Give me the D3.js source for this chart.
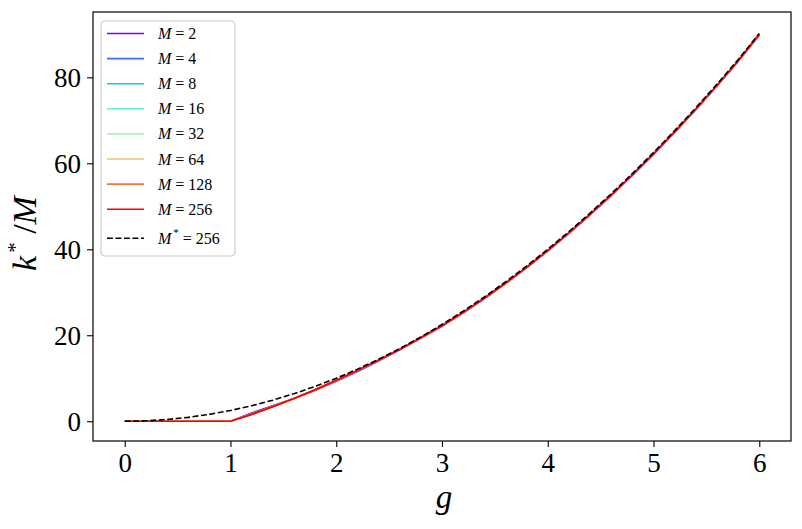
<!DOCTYPE html>
<html><head><meta charset="utf-8">
<script src="https://cdn.jsdelivr.net/npm/d3@7/dist/d3.min.js"></script>
<style>body{margin:0;background:#fff;} text{font-family:"Liberation Serif","DejaVu Serif",serif;}</style>
</head><body>
<svg id="chart" width="802" height="529"></svg>
<script>
// ---- data ----
const gSolid = [0, 0.5, 1.0, 1.2, 1.4, 1.6, 1.8, 2.0, 2.2, 2.4, 2.6, 2.8, 3.0, 3.2, 3.4, 3.6, 3.8, 4.0, 4.2, 4.4, 4.6, 4.8, 5.0, 5.2, 5.4, 5.6, 5.8, 6.0];
const kM2   = [0, 0, 0, 1.9, 3.6, 5.3, 7.2, 9.3, 11.6, 14.0, 16.6, 19.3, 22.1, 25.2, 28.5, 32.0, 35.7, 39.6, 43.7, 48.0, 52.5, 57.2, 62.1, 67.2, 72.5, 78.0, 83.7, 89.8];
const kM4   = [0, 0, 0, 1.7, 3.5, 5.3, 7.3, 9.4, 11.7, 14.1, 16.7, 19.4, 22.2, 25.3, 28.6, 32.1, 35.8, 39.7, 43.8, 48.1, 52.6, 57.3, 62.2, 67.3, 72.6, 78.1, 83.8, 89.9];
const kM8   = [0, 0, 0, 1.6, 3.4, 5.3, 7.3, 9.5, 11.8, 14.2, 16.7, 19.4, 22.2, 25.3, 28.6, 32.1, 35.8, 39.7, 43.8, 48.1, 52.6, 57.3, 62.2, 67.3, 72.6, 78.1, 83.8, 90.0];
const kM16  = [0, 0, 0, 1.6, 3.4, 5.3, 7.3, 9.5, 11.8, 14.2, 16.7, 19.4, 22.2, 25.3, 28.6, 32.1, 35.8, 39.7, 43.8, 48.1, 52.6, 57.3, 62.2, 67.3, 72.6, 78.1, 83.8, 90.0];
const kM32  = [0, 0, 0, 1.6, 3.4, 5.3, 7.3, 9.5, 11.8, 14.2, 16.7, 19.4, 22.2, 25.3, 28.6, 32.1, 35.8, 39.7, 43.8, 48.1, 52.6, 57.3, 62.2, 67.3, 72.6, 78.1, 83.8, 90.0];
const kM64  = [0, 0, 0, 1.6, 3.4, 5.3, 7.3, 9.5, 11.8, 14.2, 16.7, 19.4, 22.2, 25.3, 28.6, 32.1, 35.8, 39.7, 43.8, 48.1, 52.6, 57.3, 62.2, 67.3, 72.6, 78.1, 83.8, 90.0];
const kM128 = [0, 0, 0, 1.6, 3.4, 5.3, 7.3, 9.5, 11.8, 14.2, 16.7, 19.4, 22.2, 25.3, 28.6, 32.1, 35.8, 39.7, 43.8, 48.1, 52.6, 57.3, 62.2, 67.3, 72.6, 78.1, 83.8, 90.0];
const kM256 = [0, 0, 0, 1.6, 3.4, 5.3, 7.3, 9.5, 11.8, 14.2, 16.7, 19.4, 22.2, 25.3, 28.6, 32.1, 35.8, 39.7, 43.8, 48.1, 52.6, 57.3, 62.2, 67.3, 72.6, 78.1, 83.8, 90.0];
const gDash = [0, 0.2, 0.4, 0.6, 0.8, 1.0, 1.2, 1.4, 1.6, 1.8, 2.0, 2.2, 2.4, 2.6, 2.8, 3.0, 3.2, 3.4, 3.6, 3.8, 4.0, 4.2, 4.4, 4.6, 4.8, 5.0, 5.2, 5.4, 5.6, 5.8, 6.0];
const kStar = [0, 0.1, 0.4, 0.9, 1.6, 2.5, 3.6, 4.9, 6.4, 8.1, 10.0, 12.1, 14.4, 16.9, 19.6, 22.5, 25.6, 28.9, 32.4, 36.1, 40.0, 44.1, 48.4, 52.9, 57.6, 62.5, 67.6, 72.9, 78.4, 84.1, 90.2];
const Mvalues = [2, 4, 8, 16, 32, 64, 128, 256];
const seriesColors = ["#8000ff", "#376df9", "#12c8e6", "#5bfac0", "#a4f89f", "#edc86f", "#ff6d38", "#ff0000"];
const xTicks = [0, 1, 2, 3, 4, 5, 6];
const yTicks = [0, 20, 40, 60, 80];

const series = [kM2, kM4, kM8, kM16, kM32, kM64, kM128, kM256];

// ---- layout ----
const svg = d3.select("#chart");
const L = 93, R = 791, T = 12, B = 441;
const x = d3.scaleLinear().domain([-0.3, 6.3]).range([L, R]);
const y = d3.scaleLinear().domain([-4.6, 95.2]).range([B, T]);

svg.append("rect").attr("width", 802).attr("height", 529).attr("fill", "#fff");

const line = d3.line().x(d => x(d[0])).y(d => y(d[1]));

const plot = svg.append("g");
series.forEach((vals, i) => {
  plot.append("path")
    .datum(gSolid.map((g, j) => [g, vals[j]]))
    .attr("d", line)
    .attr("fill", "none")
    .attr("stroke", seriesColors[i])
    .attr("stroke-width", 1.7);
});
plot.append("path")
  .datum(gDash.map((g, j) => [g, kStar[j]]))
  .attr("d", line)
  .attr("fill", "none")
  .attr("stroke", "#000")
  .attr("stroke-width", 1.6)
  .attr("stroke-dasharray", "5.9,2.6");

// ---- axes ----
const xAxis = svg.append("g").attr("transform", `translate(0,${B})`)
  .call(d3.axisBottom(x).tickValues(xTicks).tickSize(6).tickPadding(6).tickFormat(d3.format("d")));
const yAxis = svg.append("g").attr("transform", `translate(${L},0)`)
  .call(d3.axisLeft(y).tickValues(yTicks).tickSize(6).tickPadding(6).tickFormat(d3.format("d")));
[xAxis, yAxis].forEach(a => {
  a.select(".domain").remove();
  a.selectAll(".tick line").attr("stroke", "#000").attr("stroke-width", 1.1);
  a.selectAll(".tick text").attr("fill", "#000").style("font-size", "27px")
    .style("font-family", '"Liberation Serif", serif');
});
xAxis.selectAll(".tick text").attr("dy", null).attr("y", 31);
yAxis.selectAll(".tick text").attr("dy", "0.34em");

svg.append("rect").attr("x", L).attr("y", T).attr("width", R - L).attr("height", B - T)
  .attr("fill", "none").attr("stroke", "#000").attr("stroke-width", 1.2);

// axis labels
svg.append("text").attr("x", (L + R) / 2 + 2).attr("y", 508).attr("text-anchor", "middle")
  .style("font-size", "33px").style("font-style", "italic").text("g");

const yl = svg.append("text").attr("transform", `translate(36,${(T + B) / 2 + 7}) rotate(-90)`)
  .attr("text-anchor", "middle").style("font-size", "34px");
yl.append("tspan").style("font-style", "italic").text("k");
yl.append("tspan").attr("dx", 3).attr("dy", -14).style("font-size", "21px").text("*");
yl.append("tspan").attr("dy", 14).text(" /");
yl.append("tspan").style("font-style", "italic").text("M");

// ---- legend ----
const lg = svg.append("g");
lg.append("rect").attr("x", 101).attr("y", 21).attr("width", 134).attr("height", 235)
  .attr("rx", 4).attr("fill", "#fff").attr("fill-opacity", 0.8).attr("stroke", "#cccccc").attr("stroke-width", 1.2);
const rowY = i => 33.5 + 25.1 * i;
Mvalues.forEach((m, i) => {
  lg.append("line").attr("x1", 107).attr("x2", 144).attr("y1", rowY(i)).attr("y2", rowY(i))
    .attr("stroke", seriesColors[i]).attr("stroke-width", 1.6);
  const t = lg.append("text").attr("x", 158).attr("y", rowY(i) + 5.5).style("font-size", "16px");
  t.append("tspan").style("font-style", "italic").text("M");
  t.append("tspan").text(" = " + m);
});
const lastY = rowY(8) + 4;
lg.append("line").attr("x1", 107).attr("x2", 144).attr("y1", lastY).attr("y2", lastY)
  .attr("stroke", "#000").attr("stroke-width", 1.6).attr("stroke-dasharray", "5.9,2.6");
const t2 = lg.append("text").attr("x", 158).attr("y", lastY + 5.5).style("font-size", "16px");
t2.append("tspan").style("font-style", "italic").text("M");
t2.append("tspan").attr("dx", 2).attr("dy", -8).style("font-size", "11px").text("*");
t2.append("tspan").attr("dy", 8).text(" = " + 256);
</script>
</body></html>
